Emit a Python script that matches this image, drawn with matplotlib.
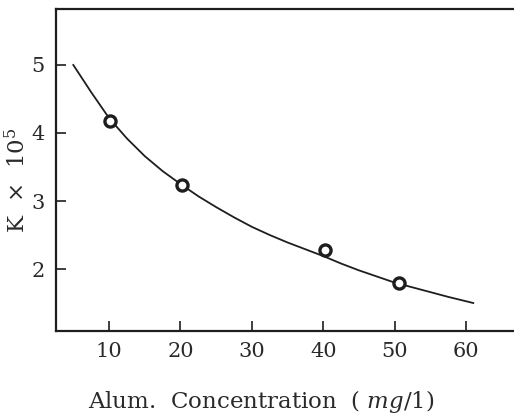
import matplotlib
matplotlib.use("Agg")
from matplotlib import pyplot as plt

# measured points (alum concentration mg/l, K x 10^5)
conc = [10.2, 20.2, 40.2, 50.6]
k_vals = [4.17, 3.24, 2.28, 1.79]

# fitted curve
curve_x = [5.0, 7.5, 10.0, 12.5, 15.0, 17.5, 20.0, 22.5, 25.0, 27.5, 30.0,
           32.5, 35.0, 37.5, 40.0, 42.5, 45.0, 47.5, 50.0, 52.5, 55.0, 57.5, 61.0]
curve_y = [5.00, 4.60, 4.22, 3.92, 3.66, 3.44, 3.25, 3.07, 2.91, 2.76, 2.62,
           2.50, 2.39, 2.29, 2.19, 2.08, 1.98, 1.89, 1.80, 1.73, 1.66, 1.59, 1.50]

xticks = [10, 20, 30, 40, 50, 60]
yticks = [2, 3, 4, 5]

plt.rcParams["font.family"] = ["DejaVu Serif"]
plt.rcParams["mathtext.fontset"] = "dejavuserif"

ink = "#1e1e1e"

fig = plt.figure(figsize=(5.14, 4.18), dpi=100)
ax = fig.add_axes([0.109, 0.209, 0.891, 0.769])

ax.plot(curve_x, curve_y, color=ink, lw=1.3)
ax.plot(conc, k_vals, "o", ms=8, mfc="white", mec=ink, mew=2.4)

ax.set_xlim(2.58, 66.7)
ax.set_ylim(1.094, 5.82)
ax.set_xticks(xticks)
ax.set_yticks(yticks)
ax.tick_params(direction="in", length=7, width=1.2, labelsize=15,
               color=ink, labelcolor="#2a2a2a")
ax.tick_params(axis="x", pad=8)
ax.tick_params(axis="y", pad=8)

ax.spines["right"].set_visible(False)
for s in ["left", "bottom", "top"]:
    ax.spines[s].set_linewidth(1.6)
    ax.spines[s].set_color(ink)

fig.text(0.509, 0.039, r"Alum.  Concentration  ( $\it{mg}$/1)", fontsize=16.5,
         ha="center", va="center", color="#2a2a2a")
fig.text(0.035, 0.57, r"K  $\times$  10$^5$", fontsize=16.5, rotation=90,
         ha="center", va="center", color="#2a2a2a")

plt.savefig("out.png", dpi=100)
